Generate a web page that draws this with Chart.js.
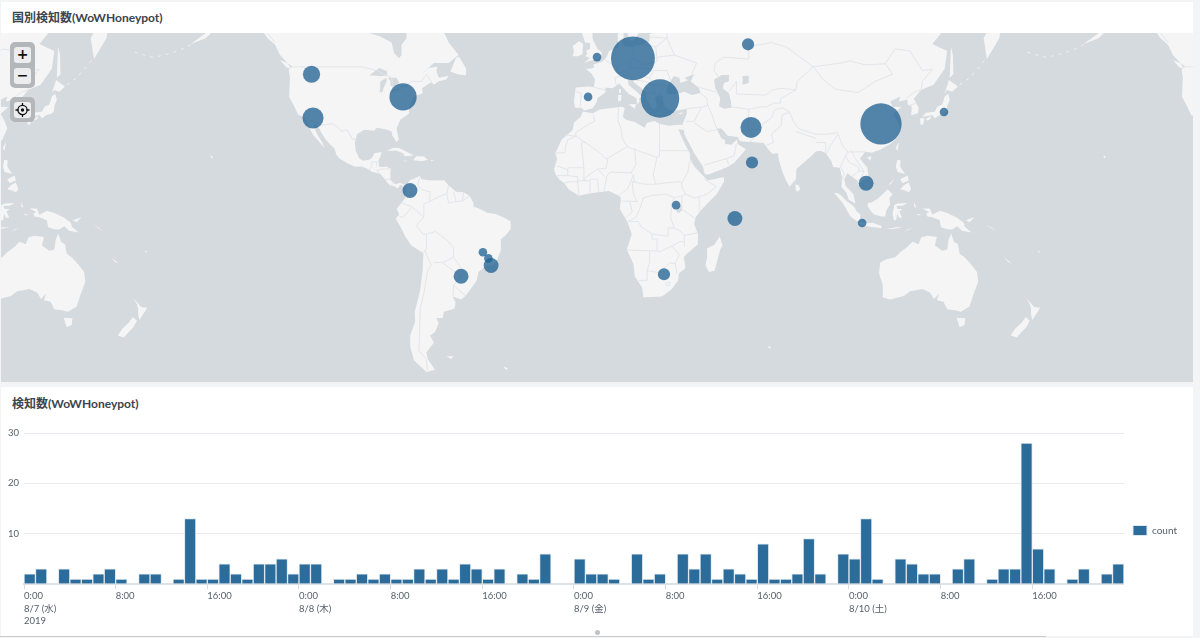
<!DOCTYPE html>
<html lang="ja">
<head>
<meta charset="utf-8">
<title>WoWHoneypot</title>
<script src="https://cdn.jsdelivr.net/npm/chart.js@4"></script>
<style>
  html, body { margin: 0; background: #f2f4f5; }
  body { position: relative; width: 1200px; height: 638px; overflow: hidden; font-family: Lato, "Noto Sans CJK JP", sans-serif; }
  .head { position: absolute; left: 1px; top: 2px; width: 1192px; height: 31px; background: #fff; }
  .foot { position: absolute; left: 1px; top: 387px; width: 1192px; height: 249px; background: #fff; }
  h2 { position: absolute; left: 11px; margin: 0; font-size: 12px; line-height: 16px; font-weight: 700; color: #3c444d; }
  canvas { position: absolute; display: block; }
  #mapChart { left: 1px; top: 33px; }
  #barChart { left: 0; top: 420px; }
  .tools { position: absolute; left: 10px; width: 25px; background: #b4b7ba; border-radius: 5px; }
  .tools b { position: absolute; left: 4px; width: 17px; height: 16px; background: #ecedee; border-radius: 3px; color: #111; font: 700 14px/15px "DejaVu Sans", sans-serif; text-align: center; }
  .tools svg { position: absolute; left: 1px; top: 0; }
  .dot { position: absolute; left: 595px; top: 630px; width: 5px; height: 5px; border-radius: 50%; background: #bfc3c6; }
  .rule { position: absolute; left: 0; top: 636px; width: 1046px; height: 1px; background: #c6ccd2; }
</style>
</head>
<body>
<div class="head"><h2 style="top:8px">国別検知数(WoWHoneypot)</h2></div>
<div class="foot"><h2 style="top:9px">検知数(WoWHoneypot)</h2></div>
<canvas id="mapChart" width="1192" height="349"></canvas>
<canvas id="barChart" width="1187" height="208"></canvas>
<div class="tools" style="top:42px;height:46px"><b style="top:5px">+</b><b style="top:26px">−</b></div>
<div class="tools" style="top:97px;height:25px"><b style="top:5px"><svg width="15" height="16" viewBox="0 0 15 16"><circle cx="7.5" cy="8" r="4.6" fill="none" stroke="#111" stroke-width="1.3"/><circle cx="7.5" cy="8" r="1.7" fill="#111"/><path d="M7.5 1v3M7.5 12v3M.5 8h3M11.500 8h3" stroke="#111" stroke-width="1.3"/></svg></b></div>
<div class="dot"></div>
<div class="rule"></div>
<script>
// hourly detections, 8/7 0:00 through 8/10 23:00
const hourCounts = [
  2, 3, 0, 3, 1, 1, 2, 3, 1, 0, 2, 2, 0, 1, 13, 1, 1, 4, 2, 1, 4, 4, 5, 2,
  4, 4, 0, 1, 1, 2, 1, 2, 1, 1, 3, 1, 3, 1, 4, 3, 1, 3, 0, 2, 1, 6, 0, 0,
  5, 2, 2, 1, 0, 6, 1, 2, 0, 6, 3, 6, 1, 3, 2, 1, 8, 1, 1, 2, 9, 2, 0, 6,
  5, 13, 1, 0, 5, 4, 2, 2, 0, 3, 5, 0, 1, 3, 3, 28, 7, 3, 0, 1, 3, 0, 2, 4
];
const xTickLabels = [
  ["0:00", "8/7 (水)", "2019"], ["8:00"], ["16:00"],
  ["0:00", "8/8 (木)"], ["8:00"], ["16:00"],
  ["0:00", "8/9 (金)"], ["8:00"], ["16:00"],
  ["0:00", "8/10 (土)"], ["8:00"], ["16:00"]
];
const seriesName = "count";

// detections per location
const bubbleLon = [-115.3, -114.7, -78.4, -75.6, -46.2, -44, -42.9, -55, 26.8, 31.7, 55.4, 62.3, 61.9, 14.3, 25.2, -0.2, -3.8, 60.7, 114.3, 139.7, 108.3, 106.7];
const bubbleLat = [47, 33.6, 40.4, 6.5, -18.1, -20.4, -23.1, -27, -26.3, 0.6, -4.8, 17.5, 30.4, 51.2, 39.9, 51.5, 40.4, 54.6, 31.6, 35.6, 9.4, -6.6];
const bubbleCount = [4, 6, 10, 3, 1, 1, 3, 3, 2, 1, 3, 2, 6, 26, 20, 1, 1, 2, 23, 1, 3, 1];

// coastlines as lon/lat rings
const landRings = [
  // North America
  [[-168,66],[-162,70],[-156,71],[-141,70],[-128,70],[-115,68],[-95,68],[-90,72],[-90,64],[-94.5,60],[-92.5,57.2],[-88,56.5],[-83,55],[-82,52.5],[-80,51.2],[-79,52],[-79,54.5],[-77,56],[-77,58],[-78,62],[-70,61],[-65,60],[-62,57.5],[-60,55],[-56,52],[-60,50],[-66,50],[-71,47],[-68,48.7],[-64.5,49],[-65,48],[-64,46],[-60,46.5],[-61,45.5],[-64,45],[-66,44],[-67,44.8],[-70.7,43],[-70.5,41.5],[-74,40.5],[-76,37],[-76,35],[-79.5,33],[-81,30],[-80.1,26],[-81,25.2],[-82.7,27.5],[-83,29],[-85,29.7],[-89,30.3],[-90,29.2],[-94,29.6],[-97,28],[-97.8,25],[-97.5,22],[-96,19],[-94.5,18.2],[-92,18.6],[-90.7,19.5],[-90,21],[-87,21.5],[-87.5,20],[-88.3,18.3],[-88,15.8],[-85,15.9],[-83.2,15],[-83.5,14],[-83.5,10.7],[-81.5,9],[-79.5,9.6],[-77.4,8.6],[-78,8],[-79.5,8.9],[-80.5,7.3],[-82,8.2],[-83.6,8.5],[-85,10],[-85.7,11],[-87.5,12.9],[-88,13.2],[-91,13.9],[-93,15.2],[-95,16],[-98,16],[-101,17.3],[-104,19],[-105.3,20.5],[-106,22.8],[-108,24.5],[-109.5,26],[-111,28],[-113,31.3],[-114.7,31.5],[-113,28],[-111,25],[-109.9,22.9],[-112,25],[-114.7,27.8],[-116,30],[-117.1,32.5],[-118.4,34],[-120.6,34.6],[-122.5,37.8],[-124.3,40.4],[-124.2,43],[-124,46],[-124.5,48.3],[-123,49],[-125,50],[-128,52],[-130,54.5],[-133,56],[-136,58.3],[-140,59.7],[-146,60.8],[-149,60.5],[-152,59],[-158,56],[-164,54.7],[-157,57.5],[-160,58.5],[-165,60]],
  // South America
  [[-77.4,8.6],[-75.5,10.7],[-74,11.2],[-71.5,12.4],[-71,11],[-68,10.6],[-64,10.5],[-61.8,10.6],[-60,8.5],[-57,6],[-54,5.8],[-51.5,4.3],[-50,1.5],[-50,0],[-48,-0.7],[-44.5,-2.5],[-41,-3],[-37,-4.8],[-35,-6],[-35,-9],[-37,-11.5],[-39,-13],[-39,-17.5],[-40.5,-21],[-42,-23],[-44.8,-23.2],[-48,-25.5],[-48.7,-28.5],[-52,-32.5],[-53.5,-34],[-55,-35],[-58.4,-34],[-57.2,-36],[-57.7,-38],[-62,-39],[-62.3,-40.8],[-65,-41],[-64,-42.5],[-65.5,-45],[-67.5,-46],[-66,-48],[-69,-50.5],[-68.4,-52.3],[-65.5,-54.8],[-69,-55.3],[-74,-52.5],[-75.5,-49],[-75.5,-46],[-73.5,-42],[-73.7,-39],[-71.5,-32],[-70.5,-25],[-70.2,-18.5],[-75,-15.5],[-77.5,-12],[-79.5,-8],[-81.3,-5],[-80,-3],[-81,-1],[-79.5,1],[-77.5,3.5],[-77.5,6.5]],
  // Africa
  [[-5.9,35.8],[-2,35.2],[1,36.4],[5,36.8],[10,37.3],[11,36.8],[10.2,34],[11.5,33],[15,32.3],[19,30.3],[20,32],[23,32.6],[25,31.6],[29,31],[32,31.2],[34.2,31.3],[34.9,29.5],[32.6,29.8],[33.5,27.8],[35.5,24],[37.2,21],[37.4,18.5],[39.5,15.5],[43,12],[43.3,11.5],[44.5,10.5],[51,11.9],[51,10],[48,5],[45,2],[41.5,-1.7],[39.5,-4.5],[39,-7],[40.5,-11],[40.5,-15],[36,-18.8],[34.8,-20],[35.5,-24],[32.8,-26],[32.5,-28.5],[30,-31.5],[26,-34],[22,-34.2],[18.5,-34.3],[18,-31],[15,-27],[14.5,-22.5],[11.8,-17],[13.8,-11],[12,-6],[9,-1],[9.5,3.5],[8.5,4.5],[4.5,6.3],[1,5.9],[-4,5.2],[-7.5,4.4],[-11.5,6.9],[-13.5,9.5],[-15.5,11],[-17,13],[-17.5,14.7],[-16.3,19],[-17,21],[-14.5,26],[-10,29.5],[-9.5,32],[-6.8,34]],
  // Eurasia
  [[-9,37],[-9.5,38.8],[-8.8,43.2],[-4,43.5],[-1.5,43.4],[-1,45.5],[-2.5,47.3],[-4.7,48.4],[-1.5,48.7],[-1.5,49.7],[1.5,50.2],[3.5,51.4],[4.7,53],[7,53.5],[8.7,53.8],[8.2,55.5],[8.2,57],[10.5,57.7],[10.5,56],[9.8,54.8],[11,54],[14,54],[18.5,54.7],[21,55.3],[21,57],[24,57.2],[24,59],[29,60],[23,60],[21.5,61],[21.5,63],[25,65.5],[22,65.7],[17,62],[18.5,60],[16.5,57],[14.3,55.5],[13,55.4],[11.2,59],[8,58],[5.2,59],[5,62],[14,68],[25,71],[41,67],[44,68.5],[68,69],[70,73],[105,77],[140,73],[180,69],[180,65],[177,62],[170,60],[163,59.5],[162,56],[157,51],[155.7,56],[160,60.5],[155,59.3],[142,59.3],[135,54.7],[141,53],[140,48.5],[135.5,44],[132,43],[130.5,42.5],[127.5,39.8],[129.5,37],[129.2,35.2],[126.5,34.5],[126.7,37.5],[125,38],[125,39.6],[121.5,39],[122,40.5],[118,39],[119,37.3],[122.5,37.2],[119.3,35],[121,32.5],[122,30],[120,26],[118,24.5],[114,22.3],[110.5,21.2],[108,21.6],[105.8,19],[108.8,15.5],[109.2,12],[106.5,10],[105,8.7],[104.8,10.4],[102,12.5],[100.8,13.4],[99.5,11],[100,8.5],[103.2,5],[104,1.3],[101.3,2.8],[100.4,5.5],[98.3,8],[98.7,11],[97.7,15.5],[95,15.8],[94.3,18],[92,21],[90,22],[88,21.7],[86.8,20.5],[82.3,16.7],[80.2,15],[80,11],[77.5,8],[76,10.5],[74.5,14],[73,19],[72.8,21],[70.5,20.8],[69,22.3],[67,24.8],[62,25.2],[57.5,25.5],[56.5,27],[52.5,27.5],[50,30],[48,30],[50,26.5],[51.3,26],[51.5,24.5],[54,24.2],[56.3,26.2],[56.5,24.5],[59.8,22.5],[58,20.5],[55,17.3],[52,15.6],[45,12.9],[43.3,12.8],[42.5,16],[39,21],[36.5,25.5],[35,28],[34.9,29.5],[34.2,31.3],[35,33],[36,35],[36,36.7],[32,36.1],[30,36.2],[27.3,37],[26.3,39.3],[26.3,40.5],[24,40.8],[23.5,40],[22.8,40.4],[24,38],[23,36.5],[21.7,37],[19.5,40.5],[19.5,42],[15,44.5],[13.7,45.5],[12.3,45.3],[12.5,44],[16,41.8],[18.5,40],[16.7,40],[17,39],[16,38],[15.7,40],[12.5,41.4],[10.5,43],[8.8,44.4],[6,43],[3.2,43.2],[3.2,41.8],[0,40],[-0.3,38.8],[-2,36.8],[-5.3,36.1],[-6.5,37]],
  // islands
  [[-84.8,21.9],[-82.5,23.1],[-80,23],[-75,20.7],[-74.2,20.2],[-77.7,19.9],[-78.5,21],[-81,22],[-83,22]],
  [[-74.4,18.4],[-73,19.9],[-70,19.8],[-68.4,18.6],[-71,18],[-72,18.2]],
  [[-78.3,18.3],[-76.3,18.1],[-77.5,17.9]],
  [[-67.2,18.5],[-65.7,18.3],[-67,18]],
  [[-59.3,47.7],[-57,51.4],[-55.7,51.5],[-53,48.5],[-53,46.7],[-56,46.9]],
  [[-128,50.8],[-125,50],[-123.4,48.4],[-125.5,48.9]],
  [[-156,20.2],[-155,19.7],[-155.7,19]],
  [[-158.2,21.5],[-157.7,21.3],[-158,21.2]],
  [[-61,-51.5],[-58,-51.5],[-59,-52.2]],
  [[-38,-54],[-36,-54.5],[-37,-54.8]],
  [[-5.5,50],[-3,50.6],[1.3,51.2],[1.7,52.7],[0,53.5],[-1.3,55],[-2,56],[-2,57.7],[-4,57.7],[-3,58.6],[-5,58.6],[-6.2,57],[-5,55],[-3,54.9],[-3,53.5],[-4.5,53.2],[-4.2,52],[-5.2,51.8],[-3,51.3]],
  [[-6,52.2],[-6,53.7],[-5.7,54.7],[-7.5,55.3],[-10,54.2],[-9.5,53],[-10,51.7],[-8,51.7]],
  [[8.3,39],[8.3,41],[9.7,41],[9.5,39.2]],
  [[8.7,41.5],[8.7,42.8],[9.5,42.8],[9.3,41.5]],
  [[12.5,38],[15.5,38.2],[15.1,36.7]],
  [[23.6,35.5],[26.3,35.2],[24.5,35]],
  [[32.3,35],[34.5,35.6],[33.8,34.9]],
  [[49.3,-12],[50.4,-15.5],[49.5,-17],[47.2,-25],[45,-25.5],[43.5,-23],[44.2,-20],[44.2,-16.5],[47,-15.3]],
  [[79.8,9],[81.2,8.5],[81.8,7],[80.6,6],[79.9,7]],
  [[68.5,-49],[70,-49],[69.5,-49.6]],
  [[130.9,34],[132.5,35.4],[136,35.7],[137,37.3],[139,38],[140,40.5],[141.4,41.4],[142,39.5],[141,37.5],[140.8,35.7],[139.8,35],[138,34.7],[136,33.5],[135,34.6],[132.5,34.2]],
  [[140,41.5],[141.7,45.4],[145.3,43.5],[143,42],[141,42.5]],
  [[130,33.5],[131.8,33.5],[131.3,31.4],[130.3,31.3]],
  [[132.3,33.3],[134.5,34.3],[134.2,33.3],[133,32.8]],
  [[142,46],[142.5,54],[143.3,52],[143.5,47]],
  [[120.2,23],[121.5,25.2],[121,22]],
  [[108.7,19.3],[110.5,20],[110,18.3]],
  [[120.3,16],[120.8,18.5],[122.2,18.4],[122,16],[124,13],[121,13.8]],
  [[122,7],[123.5,8.6],[125.5,9.7],[126.5,7],[125.5,5.8],[124,6.5]],
  [[122,11],[123,11.5],[125,12.5],[125.5,10.5],[123,9.5]],
  [[117.2,8.4],[119.5,11.3],[118.5,9.3]],
  [[109,1.5],[110.5,1.7],[113,3.2],[115.5,5.5],[117,7],[119,5],[117.7,3.5],[118,1],[116.5,-1.5],[116,-4],[114.5,-4],[111.5,-3.2],[110,-1.5],[109,0]],
  [[95.3,5.6],[97.5,5.2],[100.5,2.2],[103.5,0],[104.5,-2],[106,-3.2],[105.8,-5.8],[104.5,-5.8],[102,-4],[100.3,-1],[98.7,1.7]],
  [[105.2,-6.8],[106.2,-6],[108.5,-6.7],[111,-6.5],[114.5,-7.8],[114.5,-8.7],[110,-8.1],[106.5,-7.4]],
  [[116,-8.9],[119,-8.6],[120,-8.3],[123,-8.4],[119,-9]],
  [[123.5,-10.3],[127,-8.4],[125,-9.2]],
  [[119.5,-5.5],[119,-3],[119.7,0.7],[121,1.3],[125,1.5],[123,0.4],[120.5,0.3],[121,-1],[123,-1],[121.7,-2],[122.8,-4.5],[121.5,-4.5],[120.8,-2.8],[120.4,-5.5]],
  [[127.7,2],[128.5,-0.5],[127.7,0]],
  [[129,-2.9],[130.8,-3.4],[129,-3.5]],
  [[131,-0.8],[134,-0.8],[135,-3.3],[138,-1.7],[141,-2.6],[145,-4.5],[147.7,-6.5],[148,-8],[150.8,-10.4],[147,-9.7],[145,-7.9],[143,-9.2],[141,-9.1],[138.5,-8.3],[138,-5.5],[135,-4.3],[133,-4],[132.5,-2.8],[133.8,-2.3]],
  [[148.5,-5.5],[152,-4.2],[150,-6.3]],
  [[156,-7],[161,-10],[159,-8.5]],
  [[164,-20],[167,-22.3],[165.5,-21.8]],
  [[177.3,-17.7],[178.7,-17.8],[178,-18.3]],
  [[114,-22],[113.5,-26],[115,-30],[115,-34.3],[118,-35],[123.5,-33.9],[126,-32.3],[131,-31.5],[134,-32.7],[135.7,-34.9],[137.7,-33],[136.8,-35.3],[139.5,-35.8],[141,-38.2],[144,-38.5],[146.5,-39],[150,-37.3],[151.5,-33.5],[153.5,-29],[153,-25.5],[150.5,-22.5],[148,-20],[146,-18.7],[145.3,-15],[143.7,-14],[142.6,-10.8],[141.6,-13],[141,-17],[139,-17.5],[136,-15.5],[136.8,-12.2],[133,-11.7],[130.5,-12.3],[129.5,-15],[127,-14],[125,-16],[122.2,-18],[120,-20],[116.5,-20.7]],
  [[144.8,-40.8],[148.3,-41],[148,-43],[146,-43.6],[145.3,-42]],
  [[172.8,-34.5],[174.5,-36],[176,-37.5],[178.5,-37.7],[177,-39.5],[175.3,-41.5],[174.8,-39.8],[174.8,-38],[174.3,-36.5]],
  [[172.7,-40.6],[174.3,-41.7],[172.8,-43.7],[171,-45],[169,-46.6],[166.6,-46],[168.5,-44],[171,-42.3]]
];

// inland seas and lakes, painted back over the land
const waterRings = [
  [[28,41.6],[29,41.2],[31.5,41.2],[35,42],[38,41],[41.5,41.6],[41,43],[37.5,45],[39,47],[35,46],[36.5,45.3],[33.5,44.5],[33,46],[30.8,46.5],[28.5,44],[28,43]],
  [[47,45.5],[50,46.8],[53,46.8],[53,45],[51,44.5],[50.5,43],[53,41.5],[53.8,39],[54,37],[51,36.7],[49,37.5],[49.5,40],[47.5,43]],
  [[58.5,46.5],[61,46.6],[61,44.5],[58.5,44]],
  [[31.8,-1],[33,0.3],[34.2,0.2],[34,-1.5],[33,-2.5],[32,-2.5]],
  [[-92,46.7],[-88,48.7],[-85,47.9],[-84.7,46.6],[-87.5,46.5]],
  [[-87.8,41.8],[-87.5,45],[-85,46],[-85,45],[-86.3,43],[-86.8,41.8]],
  [[-84.5,46],[-81,46],[-80,44.6],[-81.7,43.2],[-83.5,43.8],[-83.5,45]],
  [[-83.3,41.7],[-79,42.8],[-80.5,42.7],[-83,42.2]],
  [[-79.7,43.3],[-76.3,43.5],[-76.3,44.1],[-79.3,43.8]]
];

const borderLines = [
  // Americas
  [[-123,49],[-95,49],[-89,48],[-83,46],[-82.5,42.5],[-79,43],[-75,45],[-71,45],[-69,47],[-67,45]],
  [[-141,60],[-135,58.5],[-130,55]],
  [[-117.1,32.5],[-114.7,32.5],[-111,31.3],[-108,31.5],[-106.5,31.7],[-103,29],[-101,29.7],[-99,26.5],[-97.2,25.9]],
  [[-92,14.6],[-91,16],[-91,17.8],[-89,17.8],[-89,15.9]],
  [[-89,14.4],[-87.5,13]], [[-89,14.4],[-87,15],[-85,15],[-83.2,15]],
  [[-85.7,11],[-83.7,11]], [[-83,8.3],[-82.7,9.6]], [[-77.3,8.6],[-77.9,7.2]],
  [[-71.5,12],[-72.5,9],[-71,6.8],[-67.5,6],[-67.7,2],[-70,1],[-70,-4.2]],
  [[-70,-4.2],[-75,0],[-78.8,1.4]], [[-75,-0.5],[-78.5,-4.5],[-80.3,-3.5]],
  [[-70,-4.2],[-73,-7.5],[-70.5,-11],[-69,-11],[-69,-16.5],[-69.5,-17.5],[-70.3,-18.3]],
  [[-69.5,-17.5],[-69,-19],[-67,-23],[-68.5,-25],[-70,-33],[-71.5,-38],[-71.7,-44],[-72,-50],[-69,-52.3],[-68.6,-55]],
  [[-69,-11],[-65.3,-10],[-60.5,-13.5],[-58,-16.3],[-58,-20],[-62.6,-22],[-66,-22]],
  [[-62.6,-22],[-57.7,-25.3],[-54.6,-27]], [[-58,-20],[-55,-24],[-54.6,-25.6]],
  [[-58.3,-34],[-58,-30.2],[-53.4,-33.7]], [[-58,-30.2],[-54,-26]],
  [[-67.7,2],[-64,4],[-60.8,5.2],[-60,8.5]], [[-60.8,5.2],[-60,1.5],[-57,2],[-58,6]],
  [[-57,2],[-54.5,2.3],[-54,5.8]], [[-54.5,2.3],[-51.5,4.3]],
  // Africa
  [[-1.7,35],[-1.2,32.5],[-3.5,31.5],[-8.7,28.7],[-8.7,27.3]],
  [[-17,21],[-13,21.3],[-13,23],[-12,26],[-8.7,27.3],[-4.8,25],[-6.5,25],[-5.5,15.5],[-11.5,15.5],[-12.3,14.8],[-16.3,16.2]],
  [[-13,27.7],[-8.7,27.3]],
  [[-4.8,25],[1.2,21],[3.2,19],[4.2,19.2],[12,23.5],[14,22.7],[24,19.5],[25,20],[25,22]],
  [[8.5,37],[8.2,33],[9.5,30],[10,26.5],[12,23.5]],
  [[25,31.6],[25,22],[37,22]],
  [[24,19.5],[22.5,13],[23.5,9],[27,9.5],[33,10],[34,9.5],[36.5,14],[37,17.5],[38.5,18]],
  [[15,23],[15.5,16.5],[13.5,13.5],[5,13.8],[3.5,11.7]],
  [[13.5,13.5],[14.5,12.5],[12,7],[8.7,4.6]], [[2.7,6.4],[3.7,11.7]],
  [[14.5,12.5],[15,10],[14,10],[19,9],[23.5,9]],
  [[14,10],[14.5,5],[16,2],[13,2.2],[9.8,2.2]],
  [[18.5,3.5],[22,4.5],[27.5,5],[31,3.7],[34,4.2],[35.5,5],[34,8],[34,9.5]],
  [[35.5,5],[39,3.5],[41,4],[41,-1.7]], [[41,4],[44,4.9],[47.9,8],[43,11]],
  [[39.2,-4.7],[34,-1],[30.5,-1]], [[34,4.2],[34,-1]],
  [[31,3.7],[29.8,1],[29.7,-1.3],[29.5,-4.5],[31,-8.6],[28.5,-8.5],[28.5,-11.8],[22,-11],[22,-13],[24,-13],[24,-17.5]],
  [[11.8,-17.2],[23.3,-17.6],[25.3,-17.8],[30,-15.7],[33,-14],[35,-14],[35,-16]],
  [[12.3,-6],[16.5,-6],[17.5,-8],[22,-11]],
  [[40.4,-10.5],[35,-11.5],[33,-9.5],[31,-8.6]], [[35,-11.5],[35,-14]],
  [[30,-15.7],[33,-19],[31.3,-22.3],[32,-26]],
  [[31.3,-22.3],[29,-22.2],[25,-25.7],[20,-25],[20,-28.4],[16.5,-28.6]],
  [[20,-25],[21,-22],[21,-18]],
  [[27.5,-29.5],[29,-29],[29.3,-30],[28,-30.5],[27.5,-29.5]],
  [[-16.5,12.4],[-12,12.4],[-12,14.8]], [[-13.5,9.5],[-11,10],[-8,10],[-8,12],[-12,12.4]],
  [[-8,10],[-7.5,4.4]], [[-8,10.3],[-3,10.5],[-3,5]], [[-3,11],[0,11],[0.5,6]],
  [[-5.5,15.5],[-5.5,10.5],[-5,11.5],[-3,13],[0,15],[3,12]], [[4.2,19.2],[3.5,15.3],[0,15]],
  [[13,2.2],[14,-2],[11.5,-4.5]], [[18.5,3.5],[17,-1],[15.5,-4.3],[12.3,-6]],
  // Asia
  [[47,48],[49,46]], [[47,48],[47.5,50],[51,51.5],[61,51],[61,54],[70,55],[76,54],[87,49],[98,50],[102,50.5],[108,49.5],[116,49.8],[120,53.5],[126,53],[131,48],[135,48.3],[131,45],[130.5,42.5]],
  [[87,49],[91,45.5],[96,42.7],[105,41.7],[112,45],[119,47],[116,49.8]],
  [[87,49],[80.5,45],[80,42.5],[74,40],[73.7,39.5]],
  [[53,42],[56,45],[56,41.3],[66,41],[68,41],[70.5,42.5],[74,43],[80,42.5]],
  [[53.9,37.3],[61,36.5],[66,37.3],[68,37.2],[71,38.5],[74,38.5],[73.7,39.5]],
  [[61,36.5],[60.8,31.5],[60.8,29.8],[63,27],[61.6,25.2]],
  [[60.8,29.8],[66,29.5],[66.5,31.5],[70,33.5],[71.5,36.3],[74.5,37],[77.5,35.5]],
  [[44.5,37.8],[46,35],[48,30]], [[36,36.7],[42,37.2],[44.5,37.8],[44,40],[41.5,41.5]],
  [[40,43.5],[48,41.8]], [[42,37.2],[39,32.5],[35.5,32.5]], [[39,32],[44,29],[48,29.5]],
  [[43,16.5],[52,19],[55,20],[56,24.5]], [[52,19],[53,16.7]],
  [[68,24],[71,25],[70,28],[74,31],[74.5,34.7],[77.5,35.5],[79,32.5],[81,30],[88,28],[92,28],[97,28.5]],
  [[80,29],[88,26.5]], [[88,25],[92,25],[92,21]], [[92.5,21],[94,24],[97,28]],
  [[97,28],[98.7,24],[101,21.5],[107.9,21.6]],
  [[98,10],[99.5,13],[98,16],[100,20],[101,21.5]],
  [[100,20],[101.5,17.5],[105,16],[105.5,14.3],[102.5,12]],
  [[105.5,14.3],[107.5,14],[106,11],[104.5,10.4]], [[102.2,22.3],[104,19],[107.5,14]],
  [[124.4,40],[128,42],[130.5,42.5]], [[126,37.8],[128.5,38.5]],
  // Europe
  [[-1.7,43.3],[3.2,42.5]], [[-8.8,42],[-6.5,41.5],[-7,37.2]],
  [[2.5,51],[6,49.5],[8,49],[7.5,47.5]], [[7.5,44],[7,46],[10.5,46.8],[13.7,46.5]],
  [[7,53.5],[6,51],[6,49.5]], [[14,54],[15,51],[12.5,50.3],[13.5,48.7],[10,47.5],[7.5,47.5]],
  [[15,51],[19,49.5],[24,50.5],[23.5,54],[19,54.5]],
  [[13.5,48.7],[17,48.7],[22.5,48.5]], [[16.5,46.5],[21,46],[22.5,48]],
  [[21,46],[22.7,44],[28,43.7]], [[29.5,45.3],[28,48],[22.5,48]],
  [[13.7,45.5],[19,45],[22.7,44],[23,41.5],[26,41]], [[23,41.5],[20,41.8],[19.5,42]],
  [[24,51.5],[31,52],[40,50],[38,47]], [[23.5,54],[28,56],[31,52]], [[28,56],[21,56.3]], [[28,56],[28,59.4]]
];

// small island chains, too thin to fill
const islandArcs = [
  [[-164,54.5],[-168,53.3],[-172,52.5],[-177,51.7],[-180,51.5],[-187,52.8]],
  [[146,44],[150,46],[154,49],[156,50.7]]
];

// Mercator northing, in degrees so the y scale reads like the x scale
const merc = lat => 180 / Math.PI * Math.log(Math.tan(Math.PI / 4 + lat * Math.PI / 360));

const basemap = {
  id: "basemap",
  beforeDatasetsDraw(chart) {
    const { ctx, chartArea, scales: { x, y } } = chart;
    const trace = (pts, off) => {
      pts.forEach(([lon, lat], i) => {
        const px = x.getPixelForValue(lon + off), py = y.getPixelForValue(merc(lat));
        i ? ctx.lineTo(px, py) : ctx.moveTo(px, py);
      });
    };
    ctx.save();
    ctx.fillStyle = "#d5dade";
    ctx.fillRect(chartArea.left, chartArea.top, chartArea.width, chartArea.height);
    ctx.lineJoin = "round";
    // the map repeats to either side of the antimeridian
    [-360, 0, 360].forEach(off => {
      ctx.fillStyle = "#f5f5f6";
      landRings.forEach(r => { ctx.beginPath(); trace(r, off); ctx.closePath(); ctx.fill(); });
      ctx.fillStyle = "#d5dade";
      waterRings.forEach(r => { ctx.beginPath(); trace(r, off); ctx.closePath(); ctx.fill(); });
      ctx.strokeStyle = "#e3e5e8";
      ctx.lineWidth = 1;
      borderLines.forEach(l => { ctx.beginPath(); trace(l, off); ctx.stroke(); });
      ctx.strokeStyle = "#f0f1f3";
      ctx.setLineDash([3, 5]);
      islandArcs.forEach(l => { ctx.beginPath(); trace(l, off); ctx.stroke(); });
      ctx.setLineDash([]);
    });
    ctx.restore();
  }
};

Chart.defaults.font.family = 'Lato, "Noto Sans CJK JP", sans-serif';
Chart.defaults.animation = false;

new Chart(document.getElementById("mapChart"), {
  type: "bubble",
  data: {
    datasets: [{
      label: seriesName,
      // bubble area follows the count
      data: bubbleLon.map((lon, i) => ({ x: lon, y: merc(bubbleLat[i]), r: 4.3 * Math.sqrt(bubbleCount[i]) })),
      backgroundColor: "rgba(30, 96, 146, 0.76)",
      borderWidth: 0,
      hoverBorderWidth: 0
    }]
  },
  options: {
    responsive: false,
    maintainAspectRatio: false,
    layout: { autoPadding: false },
    plugins: { legend: { display: false }, tooltip: { enabled: false } },
    scales: {
      x: { type: "linear", display: false, min: -240.5, max: 240.1 },
      y: { type: "linear", display: false, min: -70.7, max: 70 }
    }
  },
  plugins: [basemap]
});

new Chart(document.getElementById("barChart"), {
  type: "bar",
  data: {
    datasets: [{
      label: seriesName,
      data: hourCounts.map((c, h) => ({ x: h + 0.5, y: c })).filter(d => d.y > 0),
      backgroundColor: "#2b6c9b",
      borderColor: "#dfe8ef",
      borderWidth: 1,
      barPercentage: 1,
      categoryPercentage: 1
    }]
  },
  options: {
    responsive: false,
    maintainAspectRatio: false,
    layout: { padding: { top: 13 } },
    plugins: {
      tooltip: { enabled: false },
      legend: {
        position: "right",
        labels: { boxWidth: 14, boxHeight: 10, padding: 9, color: "#555f69", font: { size: 10 } }
      }
    },
    scales: {
      x: {
        type: "linear",
        offset: false,
        min: 0,
        max: 96,
        afterBuildTicks: s => { s.ticks = s.ticks.filter(t => t.value < 96); },
        afterFit: s => { s.height = 44; },
        grid: { offset: false, drawOnChartArea: false, tickColor: "#d5dae0", tickLength: 5 },
        border: { color: "#dde2e7", width: 2 },
        ticks: {
          stepSize: 8,
          autoSkip: false,
          maxRotation: 0,
          align: "start",
          padding: 1,
          color: "#555f69",
          font: { size: 9.5, lineHeight: 1.32 },
          callback: v => xTickLabels[v / 8]
        }
      },
      y: {
        min: 0,
        max: 30,
        afterFit: s => { s.width = 24; },
        grid: { color: "#e8ebef", drawTicks: false },
        border: { display: false },
        ticks: {
          stepSize: 10,
          padding: 5,
          color: "#555f69",
          font: { size: 9.5 },
          callback: v => (v === 0 ? "" : v)
        }
      }
    }
  }
});
</script>
</body>
</html>
